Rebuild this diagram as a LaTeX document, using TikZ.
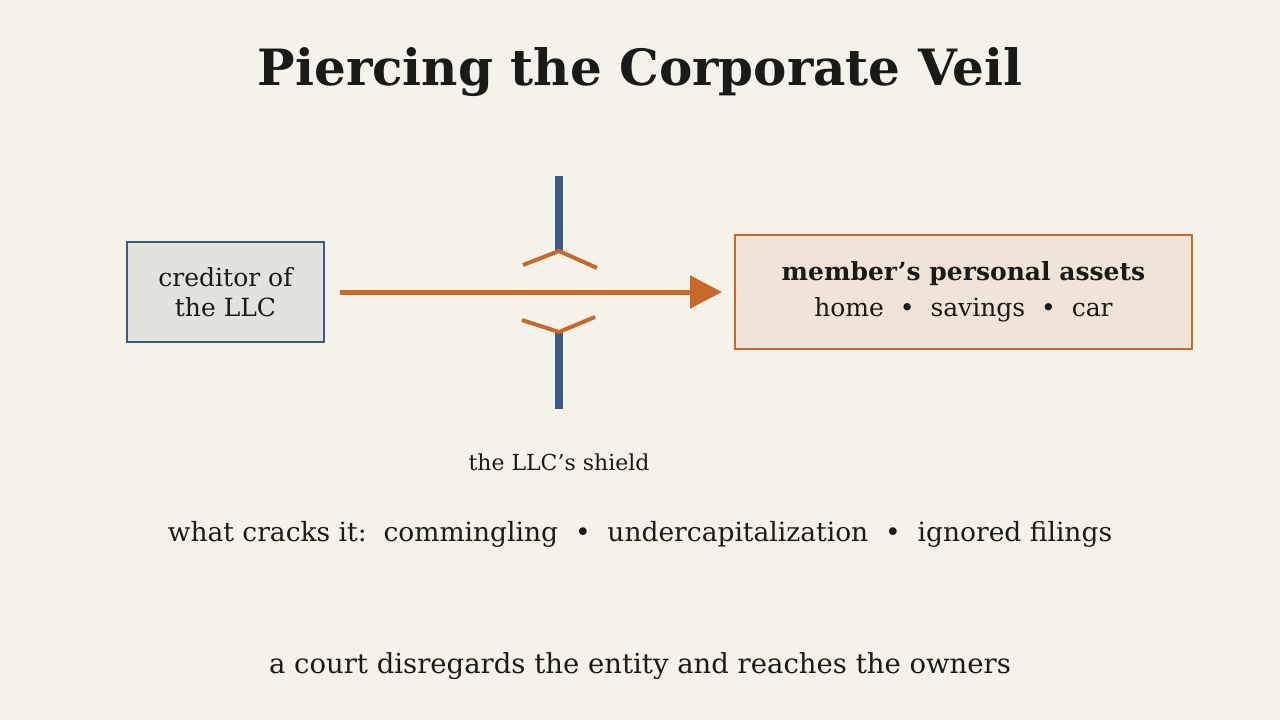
\documentclass[tikz,border=0pt]{standalone}
\usepackage{fontspec}
\setmainfont{DejaVu Serif}
\usetikzlibrary{arrows.meta}
\definecolor{bg}{HTML}{F5F2EA}
\definecolor{ink}{HTML}{1A1A17}
\definecolor{shield}{HTML}{3D5A80}
\definecolor{orng}{HTML}{C8692A}
\definecolor{credfill}{HTML}{E2E3DD}
\definecolor{assetfill}{HTML}{F0E4D8}
\begin{document}
\begin{tikzpicture}[x=1pt,y=-1pt,
  txt/.style={text=ink,inner sep=0,align=center},
  shieldline/.style={shield,line width=8pt},
  crack/.style={orng,line width=4pt}]
\fill[bg] (0,0) rectangle (1280,720);
\useasboundingbox (0,0) rectangle (1280,720);
\node[txt,font=\fontsize{50}{60}\selectfont\bfseries] (title) at (640,72) {Piercing the Corporate Veil};
\node[draw=shield,line width=2pt,fill=credfill,minimum width=197pt,minimum height=100pt,inner sep=0,align=center,text=ink,font=\fontsize{25}{30}\selectfont] (cred) at (225.5,292) {creditor of\\the LLC};
\node[draw=orng,line width=2pt,fill=assetfill,minimum width=457pt,minimum height=114pt,inner sep=0,align=center,text=ink,font=\fontsize{25}{36}\selectfont] (assets) at (963.5,292) {\textbf{member's personal assets}\\home\ \ •\ \ savings\ \ •\ \ car};
\coordinate (a0) at (340,292);
\coordinate (a1) at (722,292);
\draw[orng,line width=5pt,-{Triangle[length=32pt,width=32pt]}] (a0) -- (a1);
\coordinate (s1) at (559,176); \coordinate (s2) at (559,251);
\coordinate (s3) at (559,332); \coordinate (s4) at (559,409);
\draw[shieldline] (s1) -- (s2);
\draw[shieldline] (s3) -- (s4);
\draw[crack,line join=miter] (523,265) -- (s2) -- (597,268);
\draw[crack,line join=miter] (522,320) -- (s3) -- (595,317);
\node[txt,font=\fontsize{22}{26}\selectfont] (lab) at (559,462) {the LLC's shield};
\node[txt,font=\fontsize{26.5}{30}\selectfont] (cracks) at (640,534) {what cracks it:\ \ commingling\ \ •\ \ undercapitalization\ \ •\ \ ignored filings};
\node[txt,font=\fontsize{27.5}{30}\selectfont] (court) at (640,666) {a court disregards the entity and reaches the owners};
\end{tikzpicture}
\end{document}
